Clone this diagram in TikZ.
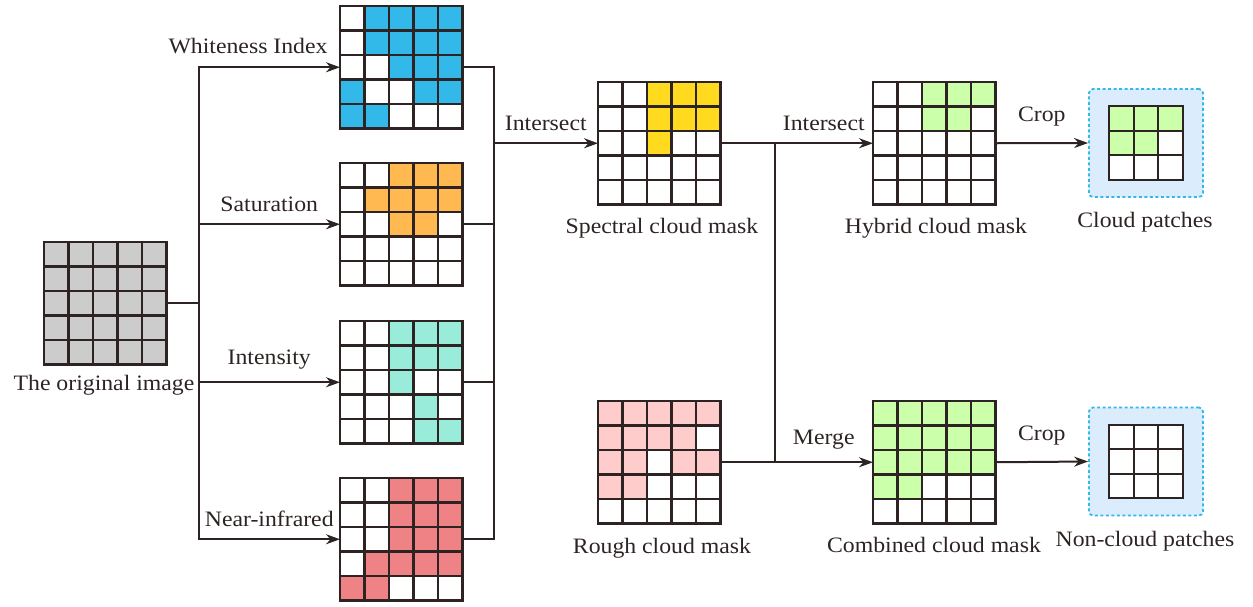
\documentclass[tikz,border=0pt]{standalone}
\usepackage{fontspec}
\setmainfont{Liberation Serif}[FakeStretch=1.08]
\usetikzlibrary{arrows.meta}

\definecolor{ink}{RGB}{45,35,35}
\definecolor{cellgrey}{RGB}{204,204,204}
\definecolor{whiteblue}{RGB}{51,184,234}
\definecolor{satorange}{RGB}{255,185,80}
\definecolor{intteal}{RGB}{153,236,218}
\definecolor{nirred}{RGB}{238,130,132}
\definecolor{specyellow}{RGB}{255,218,30}
\definecolor{roughpink}{RGB}{255,204,204}
\definecolor{maskgreen}{RGB}{204,255,170}
\definecolor{patchbg}{RGB}{219,236,252}

\tikzset{
  grid-line/.style={draw=ink, line width=2.4pt, line cap=rect},
  grid-frame/.style={rectangle, draw=ink, line width=2.4pt, inner sep=0pt, outer sep=0pt},
  wire/.style={draw=ink, line width=2pt, line cap=rect},
  flow/.style={wire, -{Stealth[length=14pt,width=10pt]}},
  step-label/.style={above=12pt, inner sep=0pt, text=ink, font=\fontsize{22}{26}\selectfont},
  mask-label/.style={anchor=base, inner sep=0pt, text=ink, font=\fontsize{22}{26}\selectfont},
  patch-box/.style={rectangle, rounded corners=4pt, fill=patchbg, draw=whiteblue,
    line width=1.8pt, dash pattern=on 3pt off 2.5pt,
    minimum width=114pt, minimum height=108pt}
}
\newcommand{\cellsz}{24.5}
% #1 name, #2 top-left corner, #3 cells per side, #4 colour, #5 cells row by row
\newcommand{\maskgrid}[5]{
  \begin{scope}[shift={(#2)}]
    \fill[white] (0,0) rectangle (#3*\cellsz,#3*\cellsz);
    \foreach \b [count=\k from 0] in {#5} {
      \pgfmathtruncatemacro{\cellrow}{div(\k,#3)}
      \pgfmathtruncatemacro{\cellcol}{mod(\k,#3)}
      \ifnum\b=1
        \fill[#4] (\cellcol*\cellsz,\cellrow*\cellsz) rectangle ++(\cellsz,\cellsz);
      \fi
    }
    \foreach \i in {0,...,#3} {
      \draw[grid-line] (\i*\cellsz,0) -- (\i*\cellsz,#3*\cellsz);
      \draw[grid-line] (0,\i*\cellsz) -- (#3*\cellsz,\i*\cellsz);
    }
    \node[grid-frame, minimum size=#3*\cellsz] (#1) at (#3*\cellsz/2,#3*\cellsz/2) {};
  \end{scope}
}

\begin{document}
\begin{tikzpicture}[x=1pt, y=-1pt]
  \useasboundingbox (0,0) rectangle (1253,606);

  % input and the four index masks
  \maskgrid{orig}{44,242}{5}{cellgrey}{1,1,1,1,1, 1,1,1,1,1, 1,1,1,1,1, 1,1,1,1,1, 1,1,1,1,1}
  \maskgrid{white}{340,6}{5}{whiteblue}{0,1,1,1,1, 0,1,1,1,1, 0,0,1,1,1, 1,0,0,1,1, 1,1,0,0,0}
  \maskgrid{sat}{340,163}{5}{satorange}{0,0,1,1,1, 0,1,1,1,1, 0,0,1,1,0, 0,0,0,0,0, 0,0,0,0,0}
  \maskgrid{int}{340,321}{5}{intteal}{0,0,1,1,1, 0,0,1,1,1, 0,0,1,0,0, 0,0,0,1,0, 0,0,0,1,1}
  \maskgrid{nir}{340,478}{5}{nirred}{0,0,1,1,1, 0,0,1,1,1, 0,0,1,1,1, 0,1,1,1,1, 1,1,0,0,0}

  % cloud masks
  \maskgrid{spec}{598,82}{5}{specyellow}{0,0,1,1,1, 0,0,1,1,1, 0,0,1,0,0, 0,0,0,0,0, 0,0,0,0,0}
  \maskgrid{rough}{598,401}{5}{roughpink}{1,1,1,1,1, 1,1,1,1,0, 1,1,0,1,1, 1,1,0,0,0, 0,0,0,0,0}
  \maskgrid{hybrid}{873,82}{5}{maskgreen}{0,0,1,1,1, 0,0,1,1,0, 0,0,0,0,0, 0,0,0,0,0, 0,0,0,0,0}
  \maskgrid{comb}{873,401}{5}{maskgreen}{1,1,1,1,1, 1,1,1,1,1, 1,1,1,1,1, 1,1,0,0,0, 0,0,0,0,0}

  % patches
  \node[patch-box] (cloud-box) at (1146,143) {};
  \node[patch-box] (noncloud-box) at (1146,461.5) {};
  \maskgrid{cloud}{1109.25,106.25}{3}{maskgreen}{1,1,1, 1,1,0, 0,0,0}
  \maskgrid{noncloud}{1109.25,424.75}{3}{white}{0,0,0, 0,0,0, 0,0,0}

  % captions
  \node[mask-label] (orig-cap) at (104,390) {The original image};
  \node[mask-label] (spec-cap) at (662,233) {Spectral cloud mask};
  \node[mask-label] (rough-cap) at (662,553) {Rough cloud mask};
  \node[mask-label] (hybrid-cap) at (936,233) {Hybrid cloud mask};
  \node[mask-label] (comb-cap) at (934,552) {Combined cloud mask};
  \node[mask-label] (cloud-cap) at (1145,227) {Cloud patches};
  \node[mask-label] (noncloud-cap) at (1145,546) {Non-cloud patches};

  % split into the four indices
  \coordinate (split) at ([xshift=32pt]orig.east);
  \draw[wire] (orig.east) -- (split);
  \draw[wire] (split |- white.west) -- (split |- nir.west);
  \draw[flow] (split |- white.west) -- (white.west)
    node[step-label, pos=0.35] (white-lbl) {Whiteness Index};
  \draw[flow] (split |- sat.west) -- (sat.west)
    node[step-label, midway] (sat-lbl) {Saturation};
  \draw[flow] (split |- int.west) -- (int.west)
    node[step-label, midway] (int-lbl) {Intensity};
  \draw[flow] (split |- nir.west) -- (nir.west)
    node[step-label, midway] (nir-lbl) {Near-infrared};

  % intersect the indices
  \coordinate (join) at ([xshift=31pt]white.east);
  \draw[wire] (white.east) -- (join);
  \draw[wire] (sat.east) -- (join |- sat.east);
  \draw[wire] (int.east) -- (join |- int.east);
  \draw[wire] (nir.east) -- (join |- nir.east);
  \draw[wire] (join) -- (join |- nir.east);
  \draw[flow] (join |- spec.west) -- (spec.west)
    node[step-label, midway] (join-lbl) {Intersect};

  % combine with the rough mask
  \coordinate (fork) at ([xshift=54pt]spec.east);
  \draw[wire] (spec.east) -- (fork) -- (fork |- rough.east) -- (rough.east);
  \draw[flow] (fork) -- (hybrid.west)
    node[step-label, midway] (fork-lbl) {Intersect};
  \draw[flow] (fork |- rough.east) -- (comb.west)
    node[step-label, midway] (merge-lbl) {Merge};

  % crop
  \draw[flow] (hybrid.east) -- (cloud-box.west)
    node[step-label, midway, yshift=4pt] (crop-lbl) {Crop};
  \draw[flow] (comb.east) -- (noncloud-box.west)
    node[step-label, midway, yshift=4pt] (crop2-lbl) {Crop};
\end{tikzpicture}
\end{document}
